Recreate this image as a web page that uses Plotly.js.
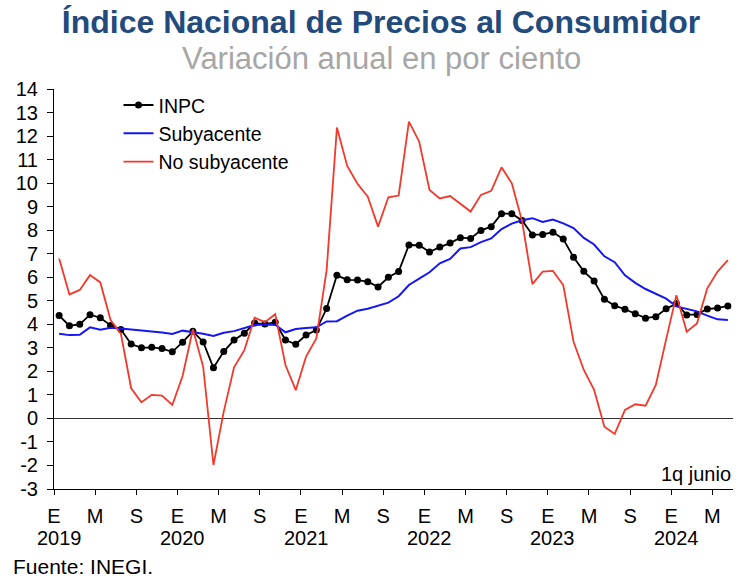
<!DOCTYPE html>
<html>
<head>
<meta charset="utf-8">
<script src="https://cdn.plot.ly/plotly-3.0.1.min.js"></script>
<style>html,body{margin:0;padding:0;background:#fff;}#chart{width:750px;height:585px;}</style>
</head>
<body>
<div id="chart"></div>
<script>
// Meses: enero 2019 a 1q junio 2024
const months = ['E','F','M','A','M','J','J','A','S','O','N','D'];
const years = ['2019','2020','2021','2022','2023','2024'];
const tickLabels = ['E','M','S'];
const yTicks = [-3, -2, -1, 0, 1, 2, 3, 4, 5, 6, 7, 8, 9, 10, 11, 12, 13, 14];

const inpc = [
  4.37, 3.94, 4.00, 4.41, 4.28, 3.95, 3.78, 3.16, 3.00, 3.02, 2.97, 2.83,
  3.24, 3.70, 3.25, 2.15, 2.84, 3.33, 3.62, 4.05, 4.01, 4.09, 3.33, 3.15,
  3.54, 3.76, 4.67, 6.08, 5.89, 5.88, 5.81, 5.59, 6.00, 6.24, 7.37, 7.36,
  7.07, 7.28, 7.45, 7.68, 7.65, 7.99, 8.15, 8.70, 8.70, 8.41, 7.80, 7.82,
  7.91, 7.62, 6.85, 6.25, 5.84, 5.06, 4.79, 4.64, 4.45, 4.26, 4.32, 4.66,
  4.88, 4.40, 4.42, 4.65, 4.69, 4.78
];
const subyacente = [
  3.60, 3.54, 3.55, 3.87, 3.77, 3.85, 3.82, 3.78, 3.75, 3.68, 3.65, 3.59,
  3.73, 3.66, 3.60, 3.50, 3.64, 3.71, 3.85, 3.97, 3.99, 3.98, 3.66, 3.80,
  3.84, 3.87, 4.12, 4.13, 4.37, 4.58, 4.66, 4.78, 4.92, 5.19, 5.67, 5.94,
  6.21, 6.59, 6.78, 7.22, 7.28, 7.49, 7.65, 8.05, 8.28, 8.42, 8.51, 8.35,
  8.45, 8.29, 8.09, 7.67, 7.39, 6.89, 6.64, 6.08, 5.76, 5.50, 5.30, 5.09,
  4.76, 4.64, 4.55, 4.37, 4.21, 4.18
];
const noSubyacente = [
  6.80, 5.27, 5.46, 6.09, 5.78, 4.18, 3.60, 1.28, 0.69, 1.00, 0.97, 0.57,
  1.80, 3.79, 2.20, -1.98, 0.29, 2.17, 2.90, 4.28, 4.09, 4.43, 2.27, 1.20,
  2.63, 3.40, 6.30, 12.36, 10.73, 9.97, 9.42, 8.15, 9.40, 9.47, 12.61, 11.76,
  9.71, 9.35, 9.45, 9.10, 8.79, 9.50, 9.67, 10.67, 9.99, 8.38, 5.71, 6.24,
  6.27, 5.67, 3.26, 2.06, 1.21, -0.35, -0.66, 0.36, 0.60, 0.54, 1.42, 3.36,
  5.24, 3.69, 4.04, 5.53, 6.24, 6.73
];

const n = inpc.length;
const xs = Array.from({length: n}, (_, i) => i);
const hoverText = xs.map(i => months[i % 12] + ' ' + years[Math.floor(i / 12)]);

const tickvals = [];
const ticktext = [];
for (let k = 0; k * 4 < n; k++) {
  tickvals.push(k * 4 - 0.5);
  ticktext.push(tickLabels[k % 3]);
}

const FONT = 'Liberation Sans, Arial, sans-serif';

const traces = [
  {x: xs, y: inpc, name: 'INPC', type: 'scatter', mode: 'lines+markers', text: hoverText,
   line: {color: '#000000', width: 1.8}, marker: {color: '#000000', size: 7}},
  {x: xs, y: subyacente, name: 'Subyacente', type: 'scatter', mode: 'lines', text: hoverText,
   line: {color: '#1515f5', width: 2}},
  {x: xs, y: noSubyacente, name: 'No subyacente', type: 'scatter', mode: 'lines', text: hoverText,
   line: {color: '#f2392c', width: 1.8}}
];

const annotations = years.map((yr, j) => ({
  text: yr, x: j * 12, xref: 'x', y: -0.1225, yref: 'paper',
  xanchor: 'center', yanchor: 'middle', showarrow: false,
  font: {family: FONT, size: 20, color: '#000'}
}));
annotations.push({
  text: 'Variación anual en por ciento', x: (381 - 54) / 679, xref: 'paper', xanchor: 'center',
  y: (489 - 58) / 400, yref: 'paper', yanchor: 'middle', showarrow: false,
  font: {family: FONT, size: 31, color: '#a6a6a6'}
});
annotations.push({
  text: '1q junio', x: 1.0, xref: 'paper', xanchor: 'right',
  y: 0.0375, yref: 'paper', yanchor: 'middle', showarrow: false,
  font: {family: FONT, size: 20, color: '#000'}
});
annotations.push({
  text: 'Fuente: INEGI.', x: (11 - 54) / 679, xref: 'paper', xanchor: 'left',
  y: -0.1925, yref: 'paper', yanchor: 'middle', showarrow: false,
  font: {family: FONT, size: 21, color: '#000'}
});

const layout = {
  width: 750, height: 585,
  margin: {l: 54, r: 17, t: 89, b: 96},
  paper_bgcolor: '#ffffff', plot_bgcolor: '#ffffff',
  font: {family: FONT, color: '#000'},
  title: {
    text: '<b>Índice Nacional de Precios al Consumidor</b>',
    x: 381 / 750, xanchor: 'center', xref: 'container',
    y: 1 - 22 / 585, yanchor: 'middle', yref: 'container',
    font: {family: FONT, size: 32, color: '#234a7c'}
  },
  xaxis: {
    range: [-0.5, n - 0.5], tickvals: tickvals, ticktext: ticktext,
    ticks: 'outside', ticklen: 5, tickwidth: 1, tickcolor: '#000',
    showline: true, linecolor: '#000', linewidth: 1,
    showgrid: false, zeroline: false, ticklabelstandoff: 4,
    tickfont: {family: FONT, size: 20, color: '#000'}
  },
  yaxis: {
    range: [-3, 14], tickvals: yTicks, ticktext: yTicks.map(String),
    ticks: 'outside', ticklen: 6, tickwidth: 1, tickcolor: '#000',
    showline: true, linecolor: '#000', linewidth: 1,
    showgrid: false, zeroline: true, zerolinecolor: '#333', zerolinewidth: 1,
    ticklabelstandoff: 5,
    tickfont: {family: FONT, size: 20, color: '#000'}
  },
  legend: {
    x: 0.095, xanchor: 'left', y: 1.008, yanchor: 'top',
    bgcolor: 'rgba(0,0,0,0)', font: {family: FONT, size: 19.5, color: '#000'},
    tracegroupgap: 0
  },
  showlegend: true,
  annotations: annotations
};

Plotly.newPlot('chart', traces, layout, {displayModeBar: false, staticPlot: true});
</script>
</body>
</html>
